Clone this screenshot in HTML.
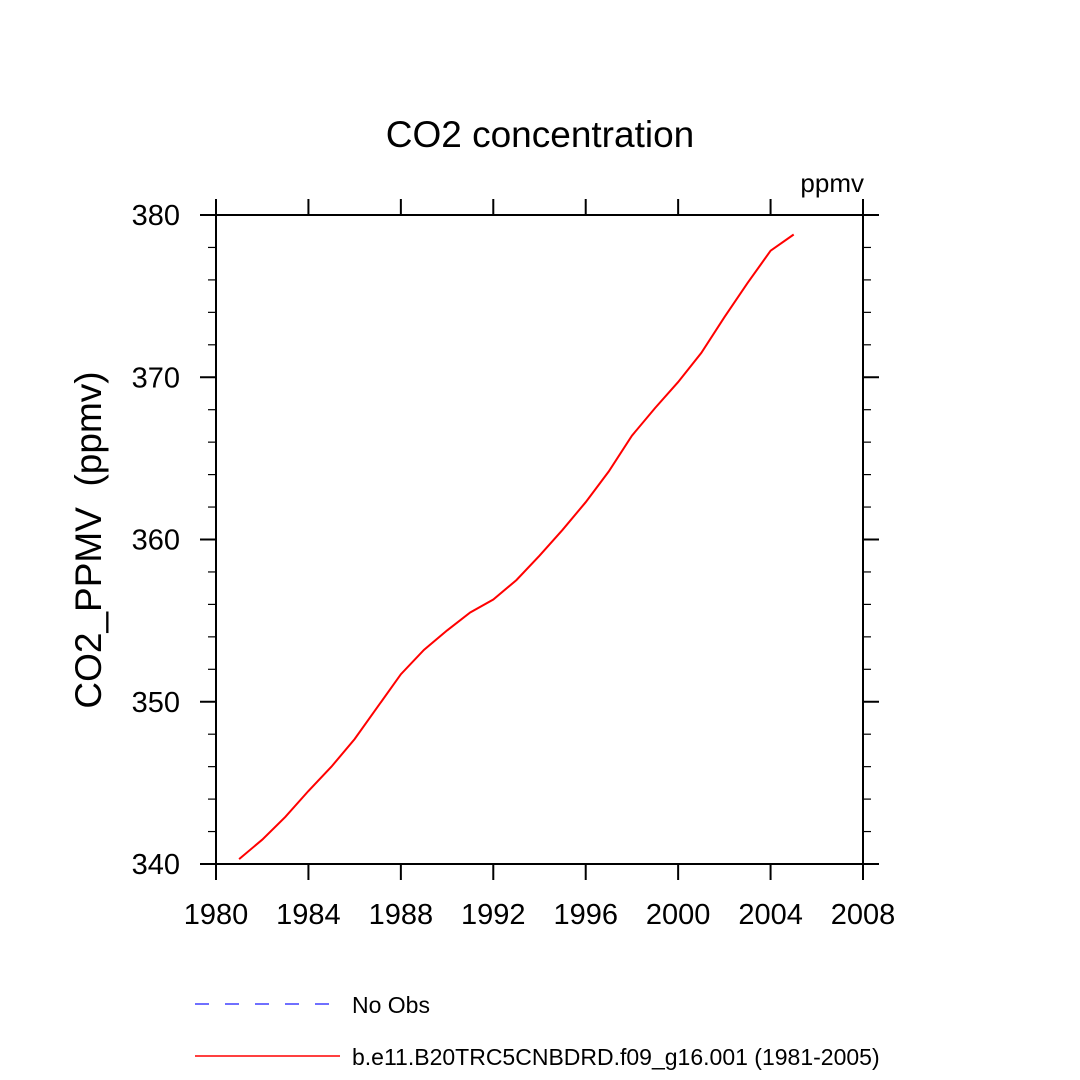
<!DOCTYPE html>
<html><head><meta charset="utf-8"><style>body{margin:0;background:#fff}svg{display:block}text{font-family:"Liberation Sans",sans-serif;fill:#000}</style></head>
<body>
<svg id="chart" width="1080" height="1080" viewBox="0 0 1080 1080">
<rect width="1080" height="1080" fill="#fff"/>
<text x="540" y="147" font-size="37" text-anchor="middle">CO2 concentration</text>
<text x="864" y="192" font-size="26" text-anchor="end">ppmv</text>
<text transform="translate(101,540) rotate(-90)" font-size="37" text-anchor="middle">CO2_PPMV&#160; (ppmv)</text>
<g id="axes"></g>
<g id="series"></g>
<g>
<line x1="195" y1="1004" x2="340" y2="1004" stroke="#4040ff" stroke-width="1.5" stroke-dasharray="14,16"/>
<text x="352" y="1013" font-size="23">No Obs</text>
<line x1="195" y1="1056" x2="340" y2="1056" stroke="#ff0000" stroke-width="1.5"/>
<text x="352" y="1065" font-size="23">b.e11.B20TRC5CNBDRD.f09_g16.001 (1981-2005)</text>
</g>
</svg>
<script>
const years=[1981,1982,1983,1984,1985,1986,1987,1988,1989,1990,1991,1992,1993,1994,1995,1996,1997,1998,1999,2000,2001,2002,2003,2004,2005];
const co2=[340.3,341.5,342.9,344.5,346.0,347.7,349.7,351.7,353.2,354.4,355.5,356.3,357.5,359.0,360.6,362.3,364.2,366.4,368.1,369.7,371.5,373.7,375.8,377.8,378.8];
const xTicks=[1980,1984,1988,1992,1996,2000,2004,2008];
const yTicks=[340,350,360,370,380];
const L=216,R=863,T=215,B=864,X0=1980,X1=2008,Y0=340,Y1=380;
const sx=v=>L+(v-X0)/(X1-X0)*(R-L);
const sy=v=>B-(v-Y0)/(Y1-Y0)*(B-T);
const NS='http://www.w3.org/2000/svg';
const ax=document.getElementById('axes');
function mk(tag,attrs,parent){const e=document.createElementNS(NS,tag);for(const k in attrs)e.setAttribute(k,attrs[k]);parent.appendChild(e);return e;}
const frame=mk('rect',{x:L,y:T,width:R-L,height:B-T,fill:'none',stroke:'#000','stroke-width':2},ax);


xTicks.forEach(v=>{const x=sx(v);
 const t1=mk('line',{x1:x,y1:B,x2:x,y2:B+16,stroke:'#000','stroke-width':2},ax);
 
 
 const t2=mk('line',{x1:x,y1:T,x2:x,y2:T-16,stroke:'#000','stroke-width':2},ax);
 
 
 const lb=mk('text',{x:x,y:924,'font-size':29,'text-anchor':'middle'},ax);lb.textContent=v;
 
 
});
for(let v=Y0;v<=Y1;v+=2){const y=sy(v);const major=(v%10===0);const len=major?16:8;
 const a=mk('line',{x1:L,y1:y,x2:L-len,y2:y,stroke:'#000','stroke-width':major?2:1.2},ax);
 
 
 const b=mk('line',{x1:R,y1:y,x2:R+len,y2:y,stroke:'#000','stroke-width':major?2:1.2},ax);
 
 
}
yTicks.forEach(v=>{const lb=mk('text',{x:180,y:sy(v)+10,'font-size':29,'text-anchor':'end'},ax);lb.textContent=v;
 
 
});
const pts=years.map((y,i)=>sx(y).toFixed(1)+','+sy(co2[i]).toFixed(1)).join(' ');
const line=mk('polyline',{points:pts,fill:'none',stroke:'#ff0000','stroke-width':2},document.getElementById('series'));


</script>
</body></html>
